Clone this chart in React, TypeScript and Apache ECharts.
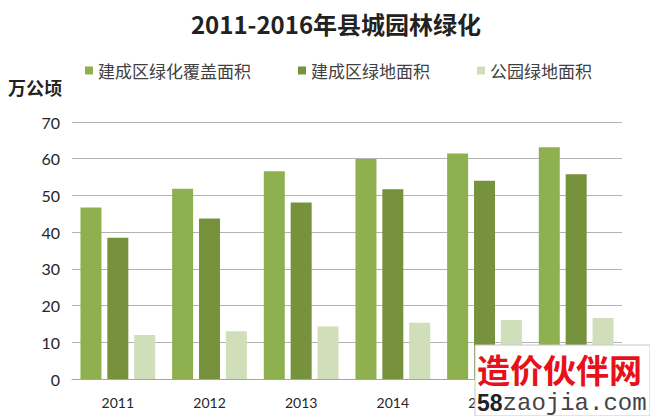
import React, { useEffect, useRef } from "react";
import * as echarts from "echarts";

const categories = ["2011", "2012", "2013", "2014", "2015", "2016"];
const coverageArea = [46.7, 51.8, 56.6, 59.9, 61.4, 63.1];
const greenArea = [38.5, 43.7, 48.1, 51.7, 54.0, 55.8];
const parkArea = [12.0, 13.0, 14.3, 15.3, 16.1, 16.6];
const seriesNames = ["建成区绿化覆盖面积", "建成区绿地面积", "公园绿地面积"];
const colors = ["#8fb04f", "#76923c", "#d1deba"];

export default function App() {
  const ref = useRef<HTMLDivElement>(null);
  useEffect(() => {
    if (!ref.current) return;
    const chart = echarts.init(ref.current, undefined, { renderer: "svg" });
    const dataSets = [coverageArea, greenArea, parkArea];
    chart.setOption({
      animation: false,
      backgroundColor: "#ffffff",
      textStyle: { fontFamily: "Lato, 'Noto Sans CJK SC', sans-serif" },
      title: {
        text: "2011-2016年县城园林绿化",
        left: 331,
        textAlign: "center",
        top: 6,
        textStyle: {
          fontSize: 24,
          fontWeight: "bold",
          color: "#222222",
          fontFamily: "'Noto Sans CJK SC', Lato, sans-serif",
        },
      },
      legend: {
        left: 80,
        top: 57,
        itemWidth: 8,
        itemHeight: 8,
        itemGap: 47,
        icon: "rect",
        data: seriesNames,
        textStyle: {
          fontSize: 17,
          color: "#404040",
          fontFamily: "'Noto Sans CJK SC', sans-serif",
        },
      },
      grid: { left: 72, right: 28, top: 122, bottom: 37 },
      xAxis: {
        type: "category",
        data: categories,
        axisTick: { show: false },
        axisLine: { lineStyle: { color: "#a6a6a6", width: 1 } },
        axisLabel: { fontSize: 14, color: "#262626", margin: 16 },
      },
      yAxis: {
        type: "value",
        min: 0,
        max: 70,
        interval: 10,
        axisLine: { show: false },
        axisTick: { show: false },
        axisLabel: { fontSize: 16, color: "#262626", margin: 12 },
        splitLine: { lineStyle: { color: "#b3b3b3", width: 1 } },
      },
      series: seriesNames.map((name, i) => ({
        name,
        type: "bar",
        data: dataSets[i],
        barWidth: 21,
        barGap: "28%",
        itemStyle: { color: colors[i] },
      })),
      graphic: [
        {
          type: "text",
          left: 8,
          top: 78,
          style: {
            text: "万公顷",
            fontSize: 18,
            fontWeight: "bold",
            fill: "#222222",
            fontFamily: "'Noto Sans CJK SC', sans-serif",
          },
        },
        {
          type: "rect",
          z: 100,
          shape: { x: 475, y: 345, width: 175, height: 71 },
          style: { fill: "#ffffff", stroke: "#c8c8c8", lineWidth: 1 },
        },
        {
          type: "text",
          z: 101,
          x: 477,
          y: 352,
          style: {
            text: "造价伙伴网",
            fontSize: 33,
            fontWeight: "bold",
            fill: "#e8101a",
            fontFamily: "'Noto Sans CJK SC', sans-serif",
          },
        },
        {
          type: "text",
          z: 101,
          x: 477,
          y: 391,
          style: {
            text: "{a|58}{b|zaojia.com}",
            rich: {
              a: {
                fontSize: 23,
                fontWeight: "bold",
                fill: "#222222",
                fontFamily: "'Liberation Sans', sans-serif",
              },
              b: {
                fontSize: 24,
                fill: "#444444",
                fontFamily: "'Liberation Mono', monospace",
              },
            },
          },
        },
      ],
    });
    return () => chart.dispose();
  }, []);
  return (
    <div
      ref={ref}
      style={{ position: "fixed", left: 0, top: 0, width: 650, height: 416 }}
    />
  );
}
